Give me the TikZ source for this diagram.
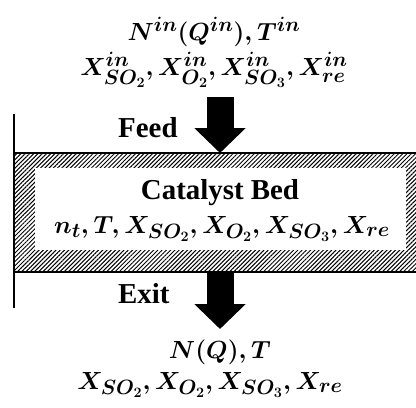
\documentclass[tikz,border=0pt]{standalone}
\usepackage{fontspec}
\setmainfont{Liberation Serif}
\usepackage{amsmath}
\DeclareMathSizes{27}{27}{20.5}{15}
\usetikzlibrary{arrows.meta,patterns.meta}
\begin{document}
\begin{tikzpicture}[x=1bp,y=-1bp,
  lbl/.style={font=\fontsize{29}{32}\selectfont\bfseries, inner sep=0, anchor=base},
  mth/.style={font=\fontsize{27}{30}\selectfont\boldmath, inner sep=0, anchor=base},
  blockarrow/.style={line width=27bp, -{Triangle[width=50bp,length=25bp]}},
  hatch/.style={pattern={Lines[angle=45,distance=3bp,line width=1bp]}, pattern color=black},
  edge/.style={line width=2.5bp},
  thin/.style={line width=1.5bp}
]
\useasboundingbox (0,0) rectangle (416,408);
% feed data
\node[mth] (in1) at (214,40) {$N^{in}(Q^{in}), T^{in}$};
\node[mth] (in2) at (214,75) {$X^{in}_{SO_2}, X^{in}_{O_2}, X^{in}_{SO_3}, X^{in}_{re}$};
\node[lbl, anchor=base west] (feed) at (118,137) {Feed};
% bed
\fill[hatch] (14,153) rectangle (417,272);
\draw[edge] (417,153) -- (14,153) -- (14,272) -- (417,272);
\node[fill=white, minimum width=371bp, minimum height=82bp, inner sep=0] (bed) at (220.5,209) {};
\node[lbl] (cat) at (220,199) {Catalyst Bed};
\node[mth] (state) at (222,233) {$n_t, T, X_{SO_2}, X_{O_2}, X_{SO_3}, X_{re}$};
\draw[thin] (14,114) -- (14,308);
% arrows
\coordinate (feedstart) at (220,97);
\coordinate (bedtop) at (220,153);
\draw[blockarrow] (feedstart) -- (bedtop);
\coordinate (bedbot) at (220,272);
\coordinate (exitend) at (220,329);
\draw[blockarrow] (bedbot) -- (exitend);
% exit data
\node[lbl, anchor=base west] (exit) at (118,303) {Exit};
\node[mth] (out1) at (220,358) {$N(Q), T$};
\node[mth] (out2) at (210,389) {$X_{SO_2}, X_{O_2}, X_{SO_3}, X_{re}$};
\end{tikzpicture}
\end{document}
